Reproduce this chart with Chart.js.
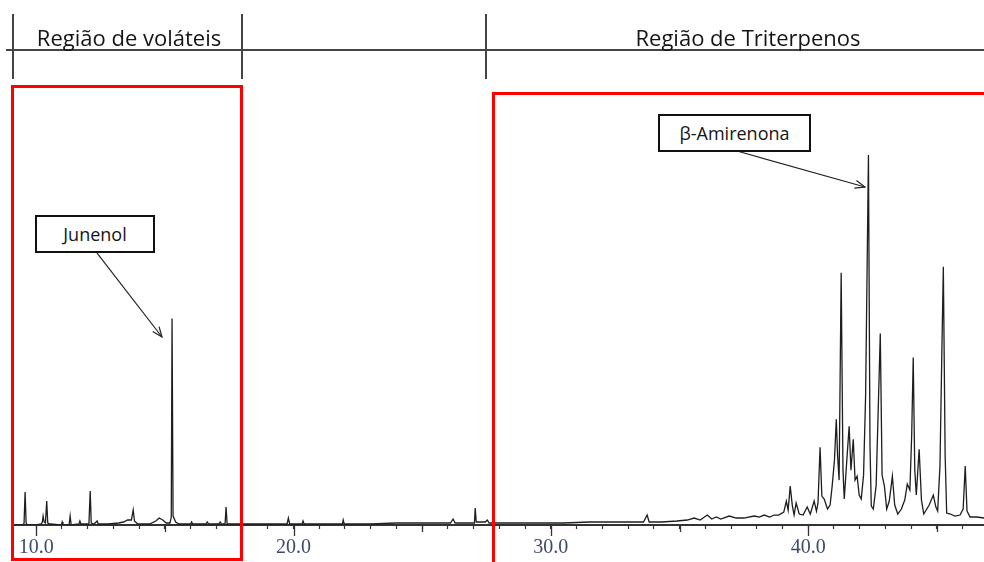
<!DOCTYPE html>
<html lang="pt">
  <head>
    <meta charset="UTF-8" />
    <title>Cromatograma</title>
    <style>
      html,
      body {
        margin: 0;
        padding: 0;
        background: #ffffff;
      }
      #wrap {
        position: relative;
        width: 984px;
        height: 562px;
        overflow: hidden;
        font-family: "Open Sans", "Lato", sans-serif;
      }
      #wrap canvas {
        position: absolute;
        left: 0;
        top: 0;
      }
      .overlay {
        position: absolute;
        left: 0;
        top: 0;
        pointer-events: none;
      }
      .region {
        position: absolute;
        font-size: 22px;
        line-height: 24px;
        color: #151515;
        white-space: nowrap;
        transform: translateX(-50%);
      }
      .redbox {
        position: absolute;
        border: 3px solid #ff0000;
        box-sizing: border-box;
      }
      .tag {
        position: absolute;
        border: 2px solid #111;
        box-sizing: border-box;
        background: #fff;
        font-size: 18px;
        color: #151515;
        display: flex;
        align-items: center;
        justify-content: center;
      }
    </style>
  </head>
  <body>
    <div id="wrap">
      <canvas id="chromatogram" width="984" height="571"></canvas>

      <svg class="overlay" width="984" height="562">
        <defs>
          <marker id="head" markerWidth="12" markerHeight="10" refX="11" refY="5" orient="auto" markerUnits="userSpaceOnUse">
            <path d="M1,1 L11,5 L1,9" fill="none" stroke="#222" stroke-width="1.2" />
          </marker>
        </defs>
        <!-- region bracket -->
        <line x1="6" y1="50" x2="984" y2="50" stroke="#444" stroke-width="2" />
        <line x1="13" y1="14" x2="13" y2="79" stroke="#444" stroke-width="2" />
        <line x1="242" y1="14" x2="242" y2="79" stroke="#444" stroke-width="2" />
        <line x1="486" y1="14" x2="486" y2="79" stroke="#444" stroke-width="2" />
        <!-- arrows -->
        <line x1="97" y1="253" x2="162" y2="337" stroke="#222" stroke-width="1.2" marker-end="url(#head)" />
        <line x1="737" y1="151" x2="865" y2="187" stroke="#222" stroke-width="1.2" marker-end="url(#head)" />
      </svg>

      <div class="region" style="left: 129px; top: 25px">Região de voláteis</div>
      <div class="region" style="left: 748px; top: 25px">Região de Triterpenos</div>

      <div class="redbox" style="left: 11px; top: 85px; width: 232px; height: 476px"></div>
      <div class="redbox" style="left: 492px; top: 92px; width: 510px; height: 490px"></div>

      <div class="tag" style="left: 35px; top: 215px; width: 120px; height: 38px">Junenol</div>
      <div class="tag" style="left: 658px; top: 114px; width: 153px; height: 38px">β-Amirenona</div>
    </div>

    <script src="https://cdn.jsdelivr.net/npm/chart.js"></script>
    <script>
      // retention time (min) and detector response
      var retentionTime = [
        9.1, 9.5, 9.53, 9.57, 9.61, 9.66, 10.0, 10.2, 10.24, 10.27, 10.31, 10.36, 10.41, 10.45, 10.55,
        10.98, 11.01, 11.04, 11.28, 11.32, 11.36, 11.66, 11.7, 11.74, 12.05, 12.1, 12.14, 12.25, 12.37, 12.41,
        12.8, 13.2, 13.4, 13.55, 13.7, 13.77, 13.82, 13.95, 14.4, 14.65, 14.78, 14.92, 15.05, 15.2, 15.25,
        15.28, 15.32, 15.42, 15.55, 16.0, 16.04, 16.08, 16.6, 16.65, 16.7, 17.1, 17.15, 17.2, 17.34, 17.38,
        17.42, 17.8, 18.5, 19.2, 19.75, 19.8, 19.85, 20.33, 20.37, 20.41, 21.0, 21.9, 21.93, 21.97, 23.0,
        24.0, 25.0, 26.1, 26.2, 26.28, 27.03, 27.06, 27.1, 27.45, 27.53, 27.6, 28.5, 29.5, 30.5, 31.5,
        32.5, 33.6, 33.74, 33.82, 34.3, 34.9,
        35.3, 35.57, 35.8, 36.08, 36.25, 36.43, 36.6, 36.93, 37.2, 37.5, 37.9, 38.1, 38.29, 38.5, 38.68,
        38.85, 39.05, 39.15, 39.22, 39.3, 39.38, 39.45, 39.53, 39.65, 39.8, 39.96, 40.08, 40.23, 40.32, 40.38,
        40.46, 40.53, 40.62, 40.75, 40.85, 40.93, 41.02, 41.09, 41.14, 41.2, 41.28, 41.35, 41.4, 41.5, 41.59,
        41.66, 41.75, 41.82, 41.9, 41.98, 42.06, 42.15, 42.23, 42.34, 42.4, 42.45, 42.53, 42.64, 42.8, 42.87,
        42.96, 43.05, 43.15, 43.27, 43.36, 43.48, 43.62, 43.75, 43.85, 43.95, 44.02, 44.08, 44.14, 44.2, 44.31,
        44.4, 44.49, 44.7, 44.86, 44.96, 45.03, 45.12, 45.19, 45.25, 45.32, 45.38, 45.52, 45.7, 45.9, 46.02,
        46.1, 46.17, 46.29, 46.55, 46.84
      ];
      var intensity = [
        0, 0, 2, 33, 2, 0, 0, 1, 3, 9, 3, 2, 24, 2, 1,
        0, 3, 0, 0, 9, 0, 1, 4, 1, 1, 34, 2, 1, 4, 1,
        1, 2, 3, 5, 5, 15, 4, 1, 1, 4, 7, 5, 2, 2, 8,
        207, 9, 3, 1, 1, 3, 1, 1, 3, 1, 1, 3, 1, 1, 18,
        1, 1, 1, 1, 1, 7, 1, 1, 4, 1, 1, 1, 5, 1, 1,
        2, 2, 2, 6, 2, 2, 17, 3, 3, 5, 2, 2, 2, 2, 3,
        3, 3, 10, 3, 3, 4,
        5, 7, 5, 10, 6, 8, 6, 9, 7, 7, 9, 8, 10, 8, 10,
        10, 13, 24, 15, 39, 20, 10, 22, 11, 10, 18, 11, 24, 14, 22,
        78, 29, 26, 16, 20, 39, 65, 106, 70, 45, 253, 55, 26, 65, 99,
        55, 86, 45, 49, 30, 26, 50, 130, 371, 80, 19, 16, 40, 192, 50,
        39, 16, 24, 49, 20, 11, 16, 25, 41, 35, 90, 168, 55, 30, 76,
        25, 11, 20, 30, 18, 14, 60, 170, 259, 70, 12, 11, 9, 10, 16,
        59, 14, 8, 8, 7
      ];
      var xTickValues = [10, 20, 30, 40];
      var midTickValues = [15, 25, 35, 45];

      var points = retentionTime.map(function (t, i) {
        return { x: t, y: intensity[i] };
      });

      // longer tick marks at every 5 and 10 minutes
      var longTicks = {
        id: "longTicks",
        afterDraw: function (chart) {
          var s = chart.scales.x;
          var ctx = chart.ctx;
          ctx.save();
          ctx.strokeStyle = "#333";
          ctx.lineWidth = 1.3;
          xTickValues.concat(midTickValues).forEach(function (v) {
            var px = Math.round(s.getPixelForValue(v)) + 0.5;
            var len = xTickValues.indexOf(v) >= 0 ? 11 : 7;
            ctx.beginPath();
            ctx.moveTo(px, s.top);
            ctx.lineTo(px, s.top + len);
            ctx.stroke();
          });
          ctx.restore();
        },
      };

      var chart = new Chart(document.getElementById("chromatogram"), {
        type: "line",
        data: {
          datasets: [
            {
              data: points,
              borderColor: "#1e1e1e",
              borderWidth: 1.3,
              pointRadius: 0,
              tension: 0,
              fill: false,
            },
          ],
        },
        options: {
          responsive: false,
          animation: false,
          layout: { padding: { left: 13, right: 0, top: 126, bottom: 4 } },
          plugins: { legend: { display: false }, tooltip: { enabled: false } },
          scales: {
            x: {
              type: "linear",
              min: 9.1,
              max: 46.83,
              border: { display: true, color: "#333", width: 2 },
              grid: { drawOnChartArea: false, tickLength: 4, tickColor: "#333", tickWidth: 1.2 },
              ticks: {
                stepSize: 1,
                includeBounds: false,
                autoSkip: false,
                maxRotation: 0,
                padding: 7,
                color: "#3e4b6d",
                font: { family: "Liberation Serif", size: 20 },
                callback: function (v) {
                  return xTickValues.indexOf(v) >= 0 ? v.toFixed(1) : "";
                },
              },
            },
            y: { display: false, min: 0, max: 400 },
          },
        },
        plugins: [longTicks],
      });
    </script>
  </body>
</html>
